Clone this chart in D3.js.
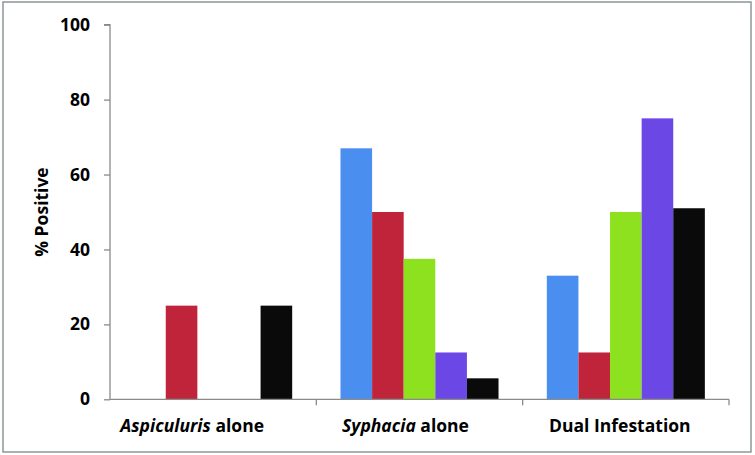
<!DOCTYPE html>
<html><head><meta charset="utf-8">
<script src="https://cdn.jsdelivr.net/npm/d3@7"></script>
<style>body{margin:0;background:#fff}svg{display:block}text{font-family:"Open Sans",sans-serif;font-weight:bold;fill:#000}</style>
</head><body>
<script>
const categories = ["Aspiculuris alone", "Syphacia alone", "Dual Infestation"];
const italicPart = ["Aspiculuris", "Syphacia", ""];
const seriesNames = ["S1", "S2", "S3", "S4", "S5"];
const seriesColors = ["#4a8ff0", "#c0243a", "#8ee11e", "#6b48e6", "#0a0a0a"];
const values = [
  [0, 25, 0, 0, 25],
  [67, 50, 37.5, 12.5, 5.6],
  [33, 12.5, 50, 75, 51]
];
const yTicks = [0, 20, 40, 60, 80, 100];

(function () {
const W = 755, H = 455;
const svg = d3.select("body").append("svg").attr("width", W).attr("height", H);
svg.append("rect").attr("x", 3).attr("y", 2).attr("width", 748).attr("height", 450)
  .attr("fill", "#fff").attr("stroke", "#8f9799").attr("stroke-width", 1.5);

const pL = 110, pR = 729, pT = 24.7, pB = 399.3;
const x0 = d3.scaleBand().domain(categories).range([pL, pR]).padding(0);
const x1 = d3.scaleBand().domain(seriesNames).range([0, x0.bandwidth()]).paddingInner(0).paddingOuter(0.764);
const y = d3.scaleLinear().domain([0, 100]).range([pB, pT]);

const g = svg.append("g");
categories.forEach((c, ci) => {
  g.selectAll(null).data(values[ci]).enter().append("rect")
    .attr("x", (d, i) => x0(c) + x1(seriesNames[i]))
    .attr("width", x1.bandwidth())
    .attr("y", d => y(d))
    .attr("height", d => y(0) - y(d))
    .attr("fill", (d, i) => seriesColors[i]);
});

// y axis
const yAxis = d3.axisLeft(y).tickValues(yTicks).tickSize(6).tickPadding(14);
const ya = svg.append("g").attr("transform", `translate(${pL},0)`).call(yAxis);
ya.select(".domain").attr("stroke", "#8a8a8a").attr("stroke-width", 1.3).attr("d", `M-6,${pT}H0V${pB}`);
ya.selectAll(".tick line").attr("stroke", "#8a8a8a").attr("stroke-width", 1.3);
ya.selectAll(".tick text").attr("font-size", 17.5).attr("font-family", "'Open Sans',sans-serif").attr("font-weight", "bold").attr("fill", "#000");

// x axis
const xa = svg.append("g").attr("transform", `translate(0,${pB})`);
xa.append("path").attr("d", `M${pL},0H${pR}`).attr("stroke", "#8a8a8a").attr("stroke-width", 1.3).attr("fill", "none");
const bounds = categories.map(c => x0(c)).concat([pR]);
xa.selectAll("line.tk").data(bounds.slice(1)).enter().append("line")
  .attr("x1", d => d).attr("x2", d => d).attr("y1", 0).attr("y2", 6)
  .attr("stroke", "#8a8a8a").attr("stroke-width", 1.3);
const labelShift = [-21, -14, -6];
categories.forEach((c, ci) => {
  const t = svg.append("text").attr("x", x0(c) + x0.bandwidth() / 2 + labelShift[ci]).attr("y", 432)
    .attr("text-anchor", "middle").attr("font-size", 17.5);
  const it = italicPart[ci];
  if (it) {
    t.append("tspan").attr("font-style", "italic").text(it);
    t.append("tspan").text(c.slice(it.length));
  } else t.text(c);
});

svg.append("text").attr("transform", "translate(48,212) rotate(-90)").attr("text-anchor", "middle")
  .attr("font-size", 17.5).text("% Positive");
})();
</script>
</body></html>
